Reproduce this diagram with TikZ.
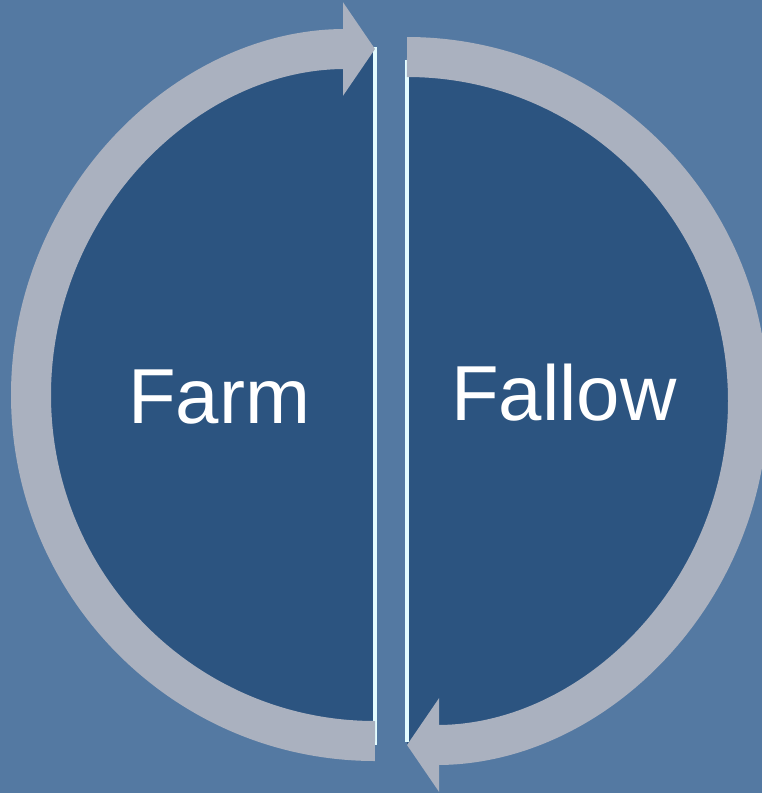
\documentclass[tikz,border=0pt]{standalone}
\usepackage{fontspec}
\setmainfont{Liberation Sans}
\usetikzlibrary{arrows.meta}
\definecolor{Sky}{HTML}{5479A2}
\definecolor{Field}{HTML}{2C5480}
\definecolor{Cycle}{HTML}{AAB1BF}
\definecolor{Seam}{HTML}{E4FCFF}
\tikzset{
  every node/.style={text=white},
  half/.style={fill=Field},
  seam/.style={draw=Seam, line width=4.8pt},
  band/.style={draw=Cycle, line width=40pt},
  bandtip/.style={-{Triangle[length=32pt,width=92pt]}},
  halftext/.style={font=\fontsize{78}{90}\selectfont, anchor=base},
}
\begin{document}
\begin{tikzpicture}[x=1pt,y=-1pt]
  \useasboundingbox (0,0) rectangle (762,793);
  \clip (0,0) rectangle (762,793);
  \fill[Sky] (0,0) rectangle (762,793);

  % Farm: left half, turning up towards the fallow side.
  \fill[half] (375,49)
    arc[start angle=270, end angle=90, x radius=344, y radius=346] -- cycle;
  \draw[seam] (375,47) -- (375,745);
  \draw[band, bandtip] (375,741)
    arc[start angle=90, end angle=270, x radius=344, y radius=346];
  \node[halftext] (farm) at (219,423) {Farm};

  % Fallow: right half, turning back down to the farm side.
  \fill[half] (407,57)
    arc[start angle=-90, end angle=90, x radius=341, y radius=344] -- cycle;
  \draw[seam] (407,60) -- (407,742);
  \draw[band, bandtip] (407,57)
    arc[start angle=-90, end angle=90, x radius=341, y radius=344];
  \node[halftext] (fallow) at (564,420) {Fallow};
\end{tikzpicture}
\end{document}
